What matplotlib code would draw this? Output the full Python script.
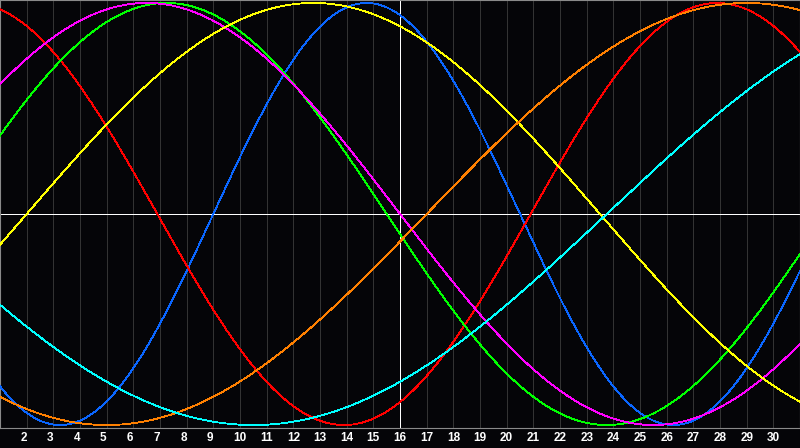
import numpy as np
import matplotlib
matplotlib.use("Agg")
import matplotlib.pyplot as plt

# Biorhythm cycles
cycle_names = ["Physical", "Emotional", "Intellectual", "Intuitive",
               "Aesthetic", "Awareness", "Spiritual"]
periods = [23, 28, 33, 38, 43, 48, 53]
# day (x position, day 1 = left edge) where each cycle crosses zero going up
rising_zero_day = [9.0, 20.9, -1.0, -3.0, 2.0, 17.0, 23.75]
colors = ["#0a66ff", "#ff0000", "#00ff00", "#ff00ff",
          "#ffff00", "#ff8000", "#00ffff"]

days = list(range(1, 32))
tick_days = list(range(2, 31))
today = 16

bg = "#050508"
fig = plt.figure(figsize=(8, 4.48), dpi=100, facecolor=bg)
ax = fig.add_axes([0, 20 / 448, 1, 428 / 448], facecolor=bg)

for d in tick_days:
    ax.axvline(d, color="#333333", lw=0.55, zorder=1, antialiased=False)

ax.axhline(0, color="white", lw=0.6, zorder=2, antialiased=False)
ax.axvline(today, color="white", lw=0.6, zorder=2, antialiased=False)

t = np.linspace(days[0], days[-1], 1600)
for p, z, c in zip(periods, rising_zero_day, colors):
    ax.plot(t, np.sin(2 * np.pi * (t - z) / p), color=c, lw=0.6,
            zorder=3, antialiased=False)

ax.set_xlim(days[0], days[-1])
ax.set_ylim(-1.014, 1.014)
ax.set_xticks(tick_days)
ax.set_xticklabels([str(d) for d in tick_days], color="white",
                   fontsize=8.5, fontweight="bold", family="Liberation Sans")
for lab, d in zip(ax.get_xticklabels(), tick_days):
    lab.set_horizontalalignment("right" if d < 10 else "center")
ax.tick_params(axis="x", length=0, pad=3.0)
ax.set_yticks([])
for s in ax.spines.values():
    s.set_color("#8a8a8a")
    s.set_linewidth(0.8)

fig.savefig("out.png", dpi=100, facecolor=fig.get_facecolor())
